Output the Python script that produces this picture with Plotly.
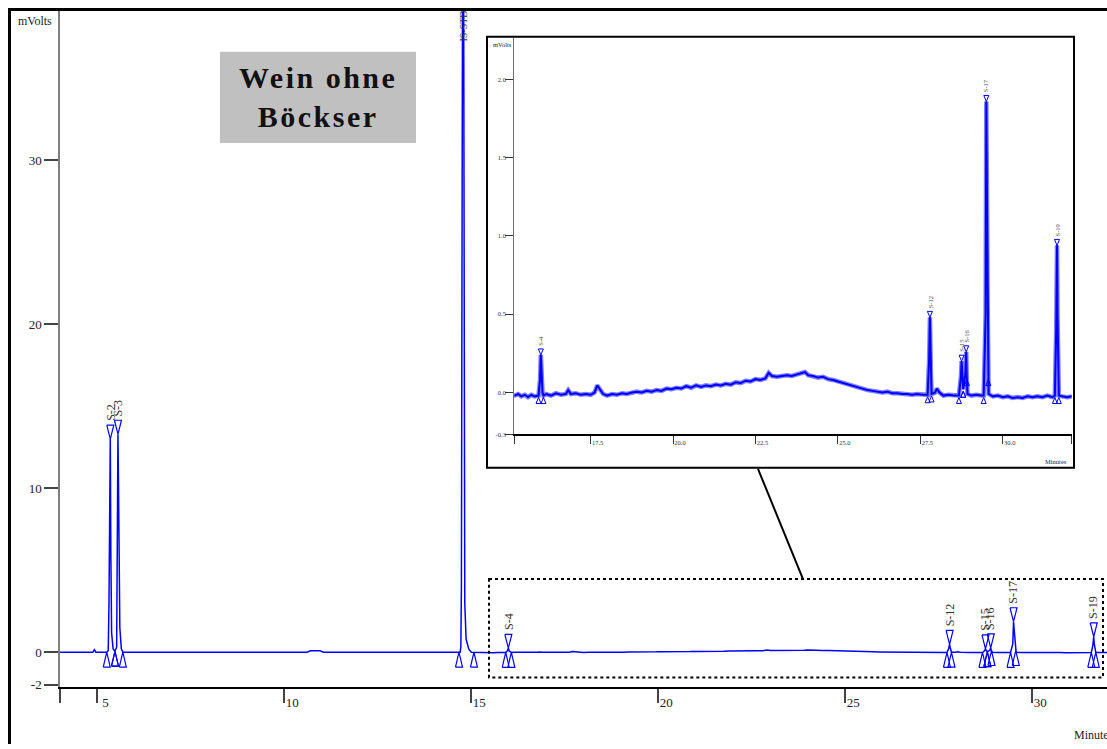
import numpy as np
import plotly.graph_objects as go

W, H = 1107, 749

# ---------------- data ----------------
# chromatogram: retention time (minutes) and detector signal (mV)
sig_t = [4.00, 4.88, 4.92, 4.96, 5.25, 5.29, 5.31, 5.335, 5.345, 5.36, 5.38, 5.42, 5.47,
         5.515, 5.535, 5.55, 5.565, 5.58, 5.60, 5.64, 5.68, 10.60, 10.70, 10.95, 11.05,
         14.70, 14.72, 14.735, 14.75, 14.765, 14.78, 14.795, 14.81, 14.825, 14.86, 14.93, 15.00,
         15.10, 15.20, 15.30, 15.40, 15.50, 15.60, 15.70, 15.80, 15.92, 15.965, 15.99, 16.01,
         16.04, 16.07, 16.15, 16.30, 16.45, 16.60, 16.75, 16.82, 16.90, 17.05, 17.20, 17.35,
         17.50, 17.62, 17.70, 17.78, 17.88, 18.00, 18.15, 18.30, 18.45, 18.60, 18.75, 18.90,
         19.05, 19.20, 19.35, 19.50, 19.65, 19.80, 19.95, 20.10, 20.25, 20.40, 20.55, 20.70,
         20.85, 21.00, 21.15, 21.30, 21.45, 21.60, 21.75, 21.90, 22.05, 22.20, 22.35, 22.50,
         22.65, 22.80, 22.90, 23.00, 23.15, 23.30, 23.45, 23.60, 23.75, 23.90, 24.00, 24.10,
         24.25, 24.40, 24.55, 24.70, 24.85, 25.00, 25.15, 25.30, 25.45, 25.60, 25.75, 25.90,
         26.05, 26.20, 26.35, 26.50, 26.65, 26.80, 26.95, 27.10, 27.25, 27.40, 27.55, 27.72,
         27.765, 27.79, 27.805, 27.82, 27.84, 27.95, 28.00, 28.08, 28.20, 28.35, 28.50, 28.67,
         28.73, 28.75, 28.77, 28.80, 28.865, 28.89, 28.905, 28.93, 29.05, 29.20, 29.35, 29.42,
         29.48, 29.50, 29.52, 29.535, 29.55, 29.57, 29.70, 29.85, 30.00, 30.15, 30.30, 30.45,
         30.60, 30.75, 30.90, 31.05, 31.20, 31.35, 31.50, 31.58, 31.62, 31.645, 31.66, 31.68,
         31.70, 31.80, 31.95, 32.10]
sig_v = [0.0, 0.0, 0.15, 0.0, 0.0, 0.1, 3.0, 12.9, 13.0, 6.0, 1.2, 0.2, 0.05,
         0.3, 10.0, 13.3, 10.0, 4.0, 1.5, 0.2, 0.0, 0.0, 0.08, 0.08, 0.0,
         0.0, 0.3, 4.0, 22.0, 48.0, 60.0, 40.0, 12.0, 3.0, 0.8, 0.2, 0.0,
         -0.01, -0.02, -0.01, -0.025, -0.015, -0.03, -0.015, -0.025, -0.02, 0.08, 0.24, 0.08,
         0.0, -0.02, -0.01, -0.02, -0.005, -0.015, -0.01, 0.015, -0.01, -0.005, -0.015, -0.01,
         -0.015, 0.0, 0.045, 0.02, -0.01, -0.02, -0.01, -0.015, -0.005, -0.01, 0.0, 0.005,
         0.0, 0.01, 0.005, 0.015, 0.01, 0.025, 0.02, 0.03, 0.025, 0.04, 0.03, 0.045,
         0.035, 0.045, 0.04, 0.05, 0.045, 0.055, 0.05, 0.065, 0.06, 0.075, 0.07, 0.085,
         0.08, 0.09, 0.125, 0.105, 0.10, 0.105, 0.11, 0.105, 0.115, 0.12, 0.13, 0.11,
         0.105, 0.095, 0.10, 0.085, 0.08, 0.07, 0.06, 0.05, 0.04, 0.03, 0.025, 0.015,
         0.01, 0.005, 0.0, 0.005, -0.005, -0.005, -0.01, -0.01, -0.015, -0.01, -0.015, -0.015,
         0.2, 0.48, 0.3, 0.12, -0.01, 0.0, 0.025, 0.0, -0.02, -0.015, -0.02, -0.02,
         0.1, 0.20, 0.1, 0.02, 0.12, 0.26, 0.12, -0.01, -0.02, -0.015, -0.02, -0.02,
         0.5, 1.86, 1.3, 0.7, 0.2, -0.01, -0.025, -0.02, -0.03, -0.025, -0.035, -0.03,
         -0.035, -0.025, -0.03, -0.025, -0.03, -0.02, -0.03, -0.02, 0.4, 0.94, 0.5, 0.1,
         -0.02, -0.025, -0.03, -0.025]

# integrated peaks
peak_names = ["S-2", "S-3", "IS-STD", "S-4", "S-12", "S-15", "S-16", "S-17", "S-19"]
peak_apex_t = [5.345, 5.55, 14.78, 15.99, 27.79, 28.75, 28.89, 29.50, 31.645]
peak_apex_v = [13.0, 13.3, 60.0, 0.24, 0.48, 0.20, 0.26, 1.86, 0.94]
peak_start_t = [5.25, 5.47, 14.67, 15.92, 27.72, 28.67, 28.80, 29.42, 31.58]
peak_end_t = [5.47, 5.68, 15.07, 16.07, 27.84, 28.80, 28.91, 29.56, 31.70]

main_xtick_vals = [4, 5, 10, 15, 20, 25, 30]
main_xtick_text = ["", "5", "10", "15", "20", "25", "30"]
main_ytick_vals = [-2, 0, 10, 20, 30]
main_ytick_text = ["-2", "0", "10", "20", "30"]
inset_xtick_vals = [15.185, 17.5, 20.0, 22.5, 25.0, 27.5, 30.0, 32.09]
inset_xtick_text = ["", "17.5", "20.0", "22.5", "25.0", "27.5", "30.0", ""]
inset_ytick_vals = [-0.268, 0.0, 0.5, 1.0, 1.5, 2.0]
inset_ytick_text = ["-0.3", "0.0", "0.5", "1.0", "1.5", "2.0"]

title_text = "Wein ohne<br>Böckser"

# ---------------- layout geometry ----------------
def fx(px):
    return px / W

def fy(py):
    return 1 - py / H

main_x_dom = [fx(60), 1.0]
main_y_dom = [fy(692), fy(10)]
main_x_rng = [4.0, 32.0]
main_y_rng = [-2.15, 39.18]
ins_x_dom = [fx(514.3), fx(1071.7)]
ins_y_dom = [fy(437.3), fy(38)]
ins_x_rng = [15.185, 32.09]
ins_y_rng = [-0.268, 2.267]

def scale(dom, rng, total):
    return (dom[1] - dom[0]) * total / (rng[1] - rng[0])

mxs = scale(main_x_dom, main_x_rng, W)
mys = scale(main_y_dom, main_y_rng, H)
ixs = scale(ins_x_dom, ins_x_rng, W)
iys = scale(ins_y_dom, ins_y_rng, H)

BLUE = "#0000ff"
SERIF = "Liberation Serif, Times New Roman, serif"


def triangles(ts, vs, xsc, ysc, wpx, hpx, down, offpx=0.0):
    X, Y = [], []
    w = wpx / xsc
    h = hpx / ysc
    off = offpx / ysc
    for t, v in zip(ts, vs):
        tip = v - off
        base = tip + h if down else tip - h
        X += [t - w / 2, t + w / 2, t, t - w / 2, None]
        Y += [base, base, tip, base, None]
    return X, Y


sig_interp = lambda t: float(np.interp(t, sig_t, sig_v))

fig = go.Figure()

# main chromatogram
fig.add_trace(go.Scatter(x=sig_t, y=sig_v, mode="lines", xaxis="x", yaxis="y",
                         line=dict(color=BLUE, width=1.5), hoverinfo="skip", showlegend=False))
# main peak markers
bx, by = triangles(peak_apex_t, peak_apex_v, mxs, mys, 7, 14, True)
fig.add_trace(go.Scatter(x=bx, y=by, mode="lines", xaxis="x", yaxis="y",
                         line=dict(color=BLUE, width=1.2), hoverinfo="skip", showlegend=False))
st = peak_start_t + peak_end_t
sv = [sig_interp(t) for t in st]
bx, by = triangles(st, sv, mxs, mys, 7, 15, False)
fig.add_trace(go.Scatter(x=bx, y=by, mode="lines", xaxis="x", yaxis="y",
                         line=dict(color=BLUE, width=1.2), hoverinfo="skip", showlegend=False))

# inset chromatogram (light noise halo + dark core)
fig.add_trace(go.Scatter(x=sig_t, y=sig_v, mode="lines", xaxis="x2", yaxis="y2",
                         line=dict(color="#7f7fff", width=4.5), hoverinfo="skip", showlegend=False))
fig.add_trace(go.Scatter(x=sig_t, y=sig_v, mode="lines", xaxis="x2", yaxis="y2",
                         line=dict(color=BLUE, width=2), hoverinfo="skip", showlegend=False))
in_idx = [i for i, t in enumerate(peak_apex_t) if ins_x_rng[0] < t < ins_x_rng[1]]
bx, by = triangles([peak_apex_t[i] for i in in_idx], [peak_apex_v[i] for i in in_idx],
                   ixs, iys, 5, 6, True)
fig.add_trace(go.Scatter(x=bx, y=by, mode="lines", xaxis="x2", yaxis="y2",
                         line=dict(color=BLUE, width=1), hoverinfo="skip", showlegend=False))
st2 = [peak_start_t[i] for i in in_idx] + [peak_end_t[i] for i in in_idx]
sv2 = [sig_interp(t) for t in st2]
bx, by = triangles(st2, sv2, ixs, iys, 5, 6, False, offpx=2)
fig.add_trace(go.Scatter(x=bx, y=by, mode="lines", xaxis="x2", yaxis="y2",
                         line=dict(color=BLUE, width=1), hoverinfo="skip", showlegend=False))

annotations = []
# main peak labels
for n, t, v in zip(peak_names, peak_apex_t, peak_apex_v):
    if v > main_y_rng[1]:
        annotations.append(dict(x=t, y=main_y_rng[1], xref="x", yref="y", text=n,
                                textangle=-90, showarrow=False, yanchor="top", xanchor="center",
                                yshift=1, font=dict(family=SERIF, size=10, color="#333333")))
    else:
        annotations.append(dict(x=t, y=v, xref="x", yref="y", text=n, textangle=-90,
                                showarrow=False, yanchor="bottom", xanchor="center",
                                yshift=16, font=dict(family=SERIF, size=12, color="#333333")))
# inset peak labels
for i in in_idx:
    annotations.append(dict(x=peak_apex_t[i], y=peak_apex_v[i], xref="x2", yref="y2",
                            text=peak_names[i], textangle=-90, showarrow=False,
                            yanchor="bottom", xanchor="center", yshift=7,
                            font=dict(family=SERIF, size=6.5, color="#444444")))
# axis titles
annotations += [
    dict(x=fx(16), y=fy(21), xref="paper", yref="paper", text="mVolts", showarrow=False,
         xanchor="left", yanchor="middle", font=dict(family=SERIF, size=12, color="#222")),
    dict(x=fx(1072), y=fy(740), xref="paper", yref="paper", text="Minutes", showarrow=False,
         xanchor="left", yanchor="middle", font=dict(family=SERIF, size=12, color="#222")),
    dict(x=fx(491), y=fy(45), xref="paper", yref="paper", text="mVolts", showarrow=False,
         xanchor="left", yanchor="middle", font=dict(family=SERIF, size=6.5, color="#222")),
    dict(x=fx(1069), y=fy(465), xref="paper", yref="paper", text="Minutes", showarrow=False,
         xanchor="right", yanchor="middle", font=dict(family=SERIF, size=6.5, color="#222")),
    dict(x=fx(318), y=fy(98), xref="paper", yref="paper",
         text='<span style="letter-spacing:2.5px">' + title_text.replace("<br>", '</span><br><span style="letter-spacing:2.5px">') + '</span>',
         showarrow=False, xanchor="center", yanchor="middle",
         font=dict(family=SERIF, size=30, color="#111111", weight="bold")),
]

shapes = [
    # outer frame (left and top)
    dict(type="line", xref="paper", yref="paper", x0=fx(9.5), x1=fx(9.5), y0=fy(8), y1=fy(749),
         line=dict(color="black", width=3)),
    dict(type="line", xref="paper", yref="paper", x0=fx(8), x1=1.0, y0=fy(9.5), y1=fy(9.5),
         line=dict(color="black", width=3)),
    # title box
    dict(type="rect", xref="paper", yref="paper", x0=fx(220), x1=fx(416), y0=fy(52), y1=fy(144),
         fillcolor="#c0c0c0", line=dict(width=0), layer="below"),
    # inset frame
    dict(type="rect", xref="paper", yref="paper", x0=fx(487), x1=fx(1074), y0=fy(37), y1=fy(471),
         fillcolor="white", line=dict(color="black", width=2), layer="below"),
    # zoom region box
    dict(type="rect", xref="paper", yref="paper", x0=fx(489), x1=fx(1103), y0=fy(583), y1=fy(682),
         line=dict(color="black", width=2, dash="dot"), layer="above"),
    # connector
    dict(type="line", xref="paper", yref="paper", x0=fx(758), x1=fx(803), y0=fy(472), y1=fy(583),
         line=dict(color="black", width=2)),
]

fig.update_layout(
    width=W, height=H, autosize=False,
    margin=dict(l=0, r=0, t=0, b=0, pad=0),
    paper_bgcolor="white", plot_bgcolor="rgba(0,0,0,0)",
    showlegend=False,
    annotations=annotations, shapes=shapes,
    xaxis=dict(domain=main_x_dom, range=main_x_rng, anchor="y", showgrid=False, zeroline=False,
               showline=True, linecolor="black", linewidth=2,
               ticks="outside", ticklen=14, tickwidth=1.5, tickcolor="#444",
               tickvals=main_xtick_vals, ticktext=main_xtick_text,
               tickfont=dict(family=SERIF, size=13, color="#222"),
               ticklabelshift=8, ticklabelstandoff=-12, fixedrange=True),
    yaxis=dict(domain=main_y_dom, range=main_y_rng, anchor="x", showgrid=False, zeroline=False,
               showline=True, linecolor="#808080", linewidth=1.5,
               ticks="outside", ticklen=14, tickwidth=1.5, tickcolor="#444",
               tickvals=main_ytick_vals, ticktext=main_ytick_text,
               tickfont=dict(family=SERIF, size=13, color="#222"), fixedrange=True),
    xaxis2=dict(domain=ins_x_dom, range=ins_x_rng, anchor="y2", showgrid=False, zeroline=False,
                showline=True, linecolor="black", linewidth=1.5,
                ticks="outside", ticklen=8, tickwidth=1, tickcolor="#333",
                tickvals=inset_xtick_vals, ticktext=inset_xtick_text,
                tickfont=dict(family=SERIF, size=6.5, color="#333"),
                ticklabelshift=7, ticklabelstandoff=-7, fixedrange=True),
    yaxis2=dict(domain=ins_y_dom, range=ins_y_rng, anchor="x2", showgrid=False, zeroline=False,
                showline=True, linecolor="#707070", linewidth=1.2,
                ticks="outside", ticklen=8, tickwidth=1, tickcolor="#333",
                tickvals=inset_ytick_vals, ticktext=inset_ytick_text,
                tickfont=dict(family=SERIF, size=6.5, color="#333"),
                ticklabelstandoff=-2, fixedrange=True),
)

fig.write_html("out.html")
